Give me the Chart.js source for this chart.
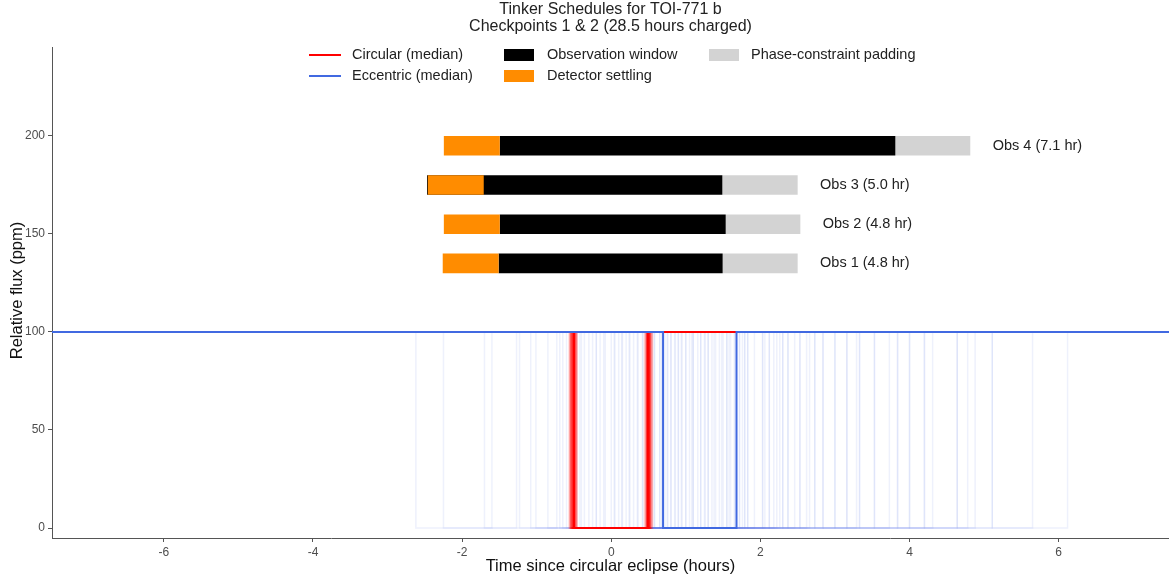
<!DOCTYPE html>
<html>
<head>
<meta charset="utf-8">
<script src="https://cdn.jsdelivr.net/npm/chart.js@4.4.1/dist/chart.umd.min.js"></script>
<style>
  html, body { margin: 0; padding: 0; background: #fff; }
</style>
</head>
<body>
<canvas id="tinkerChart" width="1169" height="579"></canvas>
<script>
// axis setup
const xTicks = [-6, -4, -2, 0, 2, 4, 6];
const yTicks = [0, 50, 100, 150, 200];

// light curve levels (ppm)
const fluxOut = 100;
const fluxIn = 0;

// median eclipses (hours)
const circMedian = [-0.50, 0.49];
const eccMedian = [0.695, 1.68];

// circular posterior samples: ingress / egress
const circIn = [-0.56, -0.55, -0.54, -0.53, -0.53, -0.52, -0.52, -0.51, -0.51, -0.50, -0.50, -0.50, -0.49, -0.49,
  -0.48, -0.48, -0.47, -0.51, -0.52, -0.50, -0.54, -0.49, -0.46, -0.51, -0.50];
const circOut = [0.45, 0.47, 0.48, 0.49, 0.50, 0.50, 0.51, 0.51, 0.52, 0.49, 0.50, 0.53, 0.50, 0.51, 0.49,
  0.52, 0.47, 0.54, 0.50, 0.48, 0.55, 0.50, 0.51, 0.49, 0.52];

// eccentric posterior samples: ingress / egress
const eccIn = [-2.62, -2.25, -1.70, -1.23, -1.08, -1.01, -0.85, -0.69, -0.65, -0.60, -0.46, -0.40, -0.30, -0.15,
  0.00, 0.10, 0.20, 0.30, 0.42, 0.55, 0.65, 0.75, 0.85, 0.90, 1.00, 1.10, 1.20, 1.30, 1.35, 1.40, 1.50, 1.55,
  1.65, 1.72, 1.79, 1.83, 2.03, 2.12, 2.30, 2.37, 2.53, 2.73, 2.84, 3.00, 3.16, 3.33, 3.53, 3.84, 4.00, 4.20, 4.64, 5.11,
  -0.42, -0.36, -0.25, -0.20, -0.08, 0.04, 0.14, 0.24, 0.36, 0.47, 0.58, 0.68, 0.80, 0.95, 1.05, 1.25];
const eccOut = [-1.60, -1.27, -0.73, -0.20, -0.10, 0.05, 0.15, 0.25, 0.35, 0.42, 0.65, 0.72, 0.80, 0.90,
  1.00, 1.10, 1.20, 1.30, 1.45, 1.55, 1.60, 1.72, 1.79, 1.83, 2.03, 2.12, 2.22, 2.26, 2.30, 2.37, 2.46, 2.53,
  2.62, 2.66, 2.73, 2.84, 3.00, 3.16, 3.29, 3.33, 3.53, 3.73, 3.84, 4.00, 4.20, 4.31, 4.64, 4.78, 4.88, 5.11, 5.65, 6.12,
  0.58, 0.68, 0.76, 0.86, 0.94, 1.08, 1.16, 1.26, 1.38, 1.48, 1.58, 1.66, 1.76, 1.92, 2.06, 2.18];

// schedule
const obsLabels = ["Obs 1 (4.8 hr)", "Obs 2 (4.8 hr)", "Obs 3 (5.0 hr)", "Obs 4 (7.1 hr)"];
const obsY = [135, 155, 175, 195];
const settleStart = [-2.26, -2.245, -2.46, -2.245];
const settleEnd = [-1.51, -1.495, -1.71, -1.495];
const windowStart = [-1.51, -1.495, -2.47, -1.495];
const windowEnd = [1.494, 1.535, 1.49, 3.81];
const padEnd = [2.50, 2.536, 2.50, 4.815];

const xMin = -7.5, xMax = 7.48;
const yMin = -5.1, yMax = 245.4;
const barHalf = 5;
const labelGap = 0.9;

function boxCurve(t0, t1) {
    return [
        { x: xMin, y: fluxOut },
        { x: t0, y: fluxOut },
        { x: t0, y: fluxIn },
        { x: t1, y: fluxIn },
        { x: t1, y: fluxOut },
        { x: xMax, y: fluxOut },
    ];
}
function rect(x0, x1, yc) {
    return [
        { x: x0, y: yc - barHalf },
        { x: x1, y: yc - barHalf },
        { x: x1, y: yc + barHalf },
        { x: x0, y: yc + barHalf },
        { x: x0, y: yc - barHalf },
    ];
}
function lineDs(data, color, width) {
    return { data: data, borderColor: color, borderWidth: width, pointRadius: 0, fill: false, tension: 0 };
}
function rectDs(data, color) {
    return { data: data, borderWidth: 0, borderColor: color, backgroundColor: color, pointRadius: 0, fill: "shape", tension: 0 };
}

// back to front
var layers = [];
eccIn.forEach((t, i) => layers.push(lineDs(boxCurve(t, eccOut[i]), "rgba(65,105,225,0.09)", 1.5)));
circIn.forEach((t, i) => layers.push(lineDs(boxCurve(t, circOut[i]), "rgba(255,0,0,0.22)", 2)));
layers.push(lineDs(boxCurve(circMedian[0], circMedian[1]), "#ff0000", 2));
layers.push(lineDs(boxCurve(eccMedian[0], eccMedian[1]), "#4169e1", 2));
obsY.forEach((y, i) => layers.push(rectDs(rect(windowEnd[i], padEnd[i], y), "#d3d3d3")));
obsY.forEach((y, i) => layers.push(rectDs(rect(windowStart[i], windowEnd[i], y), "#000000")));
obsY.forEach((y, i) => layers.push(rectDs(rect(settleStart[i], settleEnd[i], y), "#ff8c00")));
layers.forEach((d, i) => (d.order = layers.length - i));

const FONT = "'Liberation Sans', Arial, sans-serif";

// title, legend, axis titles and obs labels
const decorations = {
    id: "decorations",
    afterDraw(chart) {
        const { ctx, chartArea, scales: { x, y } } = chart;
        const cx = (chartArea.left + chartArea.right) / 2;
        ctx.save();
        ctx.fillStyle = "#222";
        ctx.textAlign = "center";
        ctx.textBaseline = "middle";
        ctx.font = "16px " + FONT;
        ctx.fillText("Tinker Schedules for TOI-771 b", cx, 10);
        ctx.fillText("Checkpoints 1 & 2 (28.5 hours charged)", cx, 27);

        // legend
        ctx.font = "14.5px " + FONT;
        ctx.textAlign = "left";
        const rows = [55, 76];
        ctx.lineWidth = 2;
        ctx.strokeStyle = "#ff0000";
        ctx.beginPath(); ctx.moveTo(309, rows[0]); ctx.lineTo(341, rows[0]); ctx.stroke();
        ctx.strokeStyle = "#4169e1";
        ctx.beginPath(); ctx.moveTo(309, rows[1]); ctx.lineTo(341, rows[1]); ctx.stroke();
        ctx.fillStyle = "#000"; ctx.fillRect(504, rows[0] - 6, 30, 12);
        ctx.fillStyle = "#ff8c00"; ctx.fillRect(504, rows[1] - 6, 30, 12);
        ctx.fillStyle = "#d3d3d3"; ctx.fillRect(709, rows[0] - 6, 30, 12);
        ctx.fillStyle = "#222";
        ctx.fillText("Circular (median)", 352, rows[0]);
        ctx.fillText("Eccentric (median)", 352, rows[1]);
        ctx.fillText("Observation window", 547, rows[0]);
        ctx.fillText("Detector settling", 547, rows[1]);
        ctx.fillText("Phase-constraint padding", 751, rows[0]);

        // obs labels
        ctx.textAlign = "center";
        obsLabels.forEach((lab, i) => {
            ctx.fillText(lab, x.getPixelForValue(padEnd[i] + labelGap), y.getPixelForValue(obsY[i]));
        });

        // axis titles
        ctx.fillStyle = "#111";
        ctx.font = "16.5px " + FONT;
        ctx.fillText("Time since circular eclipse (hours)", cx, 566);
        ctx.translate(17, (chartArea.top + chartArea.bottom) / 2 - 2);
        ctx.rotate(-Math.PI / 2);
        ctx.fillText("Relative flux (ppm)", 0, 0);
        ctx.restore();
    },
};

const axisStyle = {
    grid: { drawOnChartArea: false, drawTicks: true, tickLength: 4, color: "#555" },
    border: { display: true, color: "#555", width: 1 },
};

var ctx = document.getElementById("tinkerChart").getContext("2d");
var tinkerChart = new Chart(ctx, {
    type: "line",
    data: { datasets: layers },
    options: {
        responsive: false,
        devicePixelRatio: 1,
        animation: false,
        layout: { padding: { top: 47, left: 0, right: 0, bottom: 0 } },
        plugins: { legend: { display: false }, tooltip: { enabled: false }, title: { display: false } },
        scales: {
            x: {
                type: "linear",
                min: xMin,
                max: xMax,
                ...axisStyle,
                ticks: { color: "#4d4d4d", font: { size: 12, family: FONT }, padding: 3, maxRotation: 0 },
                afterBuildTicks: (s) => { s.ticks = xTicks.map((v) => ({ value: v })); },
                afterFit: (s) => { s.height = 41; },
            },
            y: {
                type: "linear",
                min: yMin,
                max: yMax,
                ...axisStyle,
                ticks: { color: "#4d4d4d", font: { size: 12, family: FONT }, padding: 3 },
                afterBuildTicks: (s) => { s.ticks = yTicks.map((v) => ({ value: v })); },
                afterFit: (s) => { s.width = 52; },
            },
        },
    },
    plugins: [decorations],
});
</script>
</body>
</html>
